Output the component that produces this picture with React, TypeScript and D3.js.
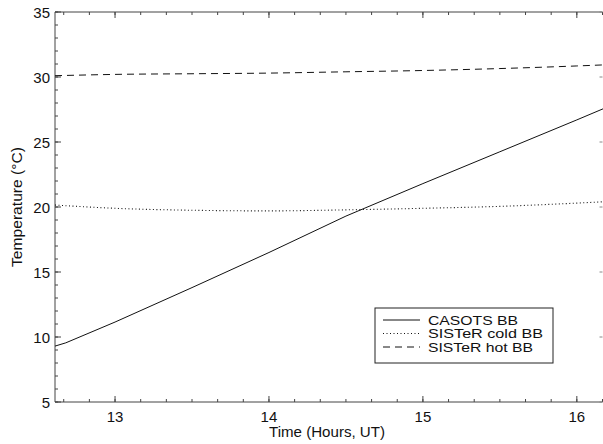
import React from "react";
import * as d3 from "d3";

const hours = [12.61, 12.68, 13, 13.5, 14, 14.5, 15, 15.5, 16, 16.17];
const casots = [9.3, 9.55, 11.15, 13.8, 16.5, 19.3, 21.8, 24.25, 26.7, 27.55];
const sisterCold = [20.15, 20.1, 19.9, 19.75, 19.7, 19.78, 19.9, 20.05, 20.3, 20.4];
const sisterHot = [30.1, 30.12, 30.2, 30.25, 30.3, 30.4, 30.5, 30.65, 30.85, 30.93];

const xTicks = [13, 14, 15, 16];
const yTicks = [5, 10, 15, 20, 25, 30, 35];

const series = [
  { name: "CASOTS BB", values: casots, dash: "", curve: d3.curveLinear, len: 90 },
  { name: "SISTeR cold BB", values: sisterCold, dash: "1,2.5", curve: d3.curveMonotoneX, len: 115 },
  { name: "SISTeR hot BB", values: sisterHot, dash: "7,5", curve: d3.curveMonotoneX, len: 105 },
];

export default function App() {
  const width = 603;
  const height = 444;
  const margin = { top: 12, right: 0, bottom: 42, left: 55 };

  const x = d3
    .scaleLinear()
    .domain([12.61, 16.17])
    .range([margin.left, width - margin.right]);
  const y = d3
    .scaleLinear()
    .domain([5, 35])
    .range([height - margin.bottom, margin.top]);

  const line = (vals: number[], curve: d3.CurveFactory) =>
    d3
      .line<number>()
      .x((_, i) => x(hours[i]))
      .y((d) => y(d))
      .curve(curve)(vals) ?? "";

  // minor ticks: x every 10 min, y every 1 degree
  const xMinor = d3.range(12.5, 16.2, 1 / 6).filter((t) => t >= 12.61 && t <= 16.17);
  const yMinor = d3.range(5, 36, 1);

  const font = "'Liberation Sans', Arial, Helvetica, sans-serif";
  const axisColor = "#444";
  const x0 = margin.left;
  const x1 = width - margin.right - 0.5;
  const y0 = height - margin.bottom;
  const y1 = margin.top;

  return (
    <svg
      width={width}
      height={height}
      style={{ position: "absolute", left: 0, top: 0, background: "#fff" }}
      fontFamily={font}
    >
      {/* frame */}
      <line x1={x0} x2={x1} y1={y0} y2={y0} stroke={axisColor} />
      <line x1={x0} x2={x1} y1={y1} y2={y1} stroke={axisColor} />
      <line x1={x0} x2={x0} y1={y1} y2={y0} stroke={axisColor} />

      {/* x ticks */}
      {xMinor.map((t, i) => (
        <g key={"xm" + i}>
          <line x1={x(t)} x2={x(t)} y1={y0} y2={y0 - 3} stroke={axisColor} />
          <line x1={x(t)} x2={x(t)} y1={y1} y2={y1 + 3} stroke={axisColor} />
        </g>
      ))}
      {xTicks.map((t) => (
        <g key={"x" + t}>
          <line x1={x(t)} x2={x(t)} y1={y0} y2={y0 - 6} stroke={axisColor} />
          <line x1={x(t)} x2={x(t)} y1={y1} y2={y1 + 6} stroke={axisColor} />
          <text x={x(t)} y={y0 + 20} textAnchor="middle" fontSize={15} fill="#111">
            {t}
          </text>
        </g>
      ))}

      {/* y ticks */}
      {yMinor.map((t) => (
        <line key={"ym" + t} x1={x0} x2={x0 + 3} y1={y(t)} y2={y(t)} stroke={axisColor} />
      ))}
      {yTicks.map((t) => (
        <g key={"y" + t}>
          <line x1={x0} x2={x0 + 6} y1={y(t)} y2={y(t)} stroke={axisColor} />
          <line x1={x1} x2={x1 - 3} y1={y(t)} y2={y(t)} stroke="#888" />
          <text x={x0 - 5} y={y(t) + 5.5} textAnchor="end" fontSize={15} fill="#111">
            {t}
          </text>
        </g>
      ))}

      {/* series */}
      {series.map((s) => (
        <path
          key={s.name}
          d={line(s.values, s.curve)}
          fill="none"
          stroke="#111"
          strokeWidth={s.dash === "1,2.5" ? 1.1 : 1}
          strokeDasharray={s.dash || undefined}
        />
      ))}

      {/* axis labels */}
      <text
        x={327}
        y={437}
        textAnchor="middle"
        fontSize={14}
        fill="#111"
        textLength={116}
        lengthAdjust="spacingAndGlyphs"
      >
        Time (Hours, UT)
      </text>
      <text
        transform={`translate(22, 207) rotate(-90)`}
        textAnchor="middle"
        fontSize={14}
        fill="#111"
        textLength={120}
        lengthAdjust="spacingAndGlyphs"
      >
        Temperature (°C)
      </text>

      {/* legend */}
      <rect x={375} y={308} width={178} height={55} fill="#fff" stroke="#222" />
      {series.map((s, i) => (
        <g key={"l" + s.name} transform={`translate(0, ${320 + i * 13.5})`}>
          <line x1={383} x2={420} y1={0} y2={0} stroke="#111" strokeDasharray={s.dash || undefined} />
          <text
            x={428}
            y={4.5}
            fontSize={13}
            fill="#111"
            textLength={s.len}
            lengthAdjust="spacingAndGlyphs"
          >
            {s.name}
          </text>
        </g>
      ))}
    </svg>
  );
}
